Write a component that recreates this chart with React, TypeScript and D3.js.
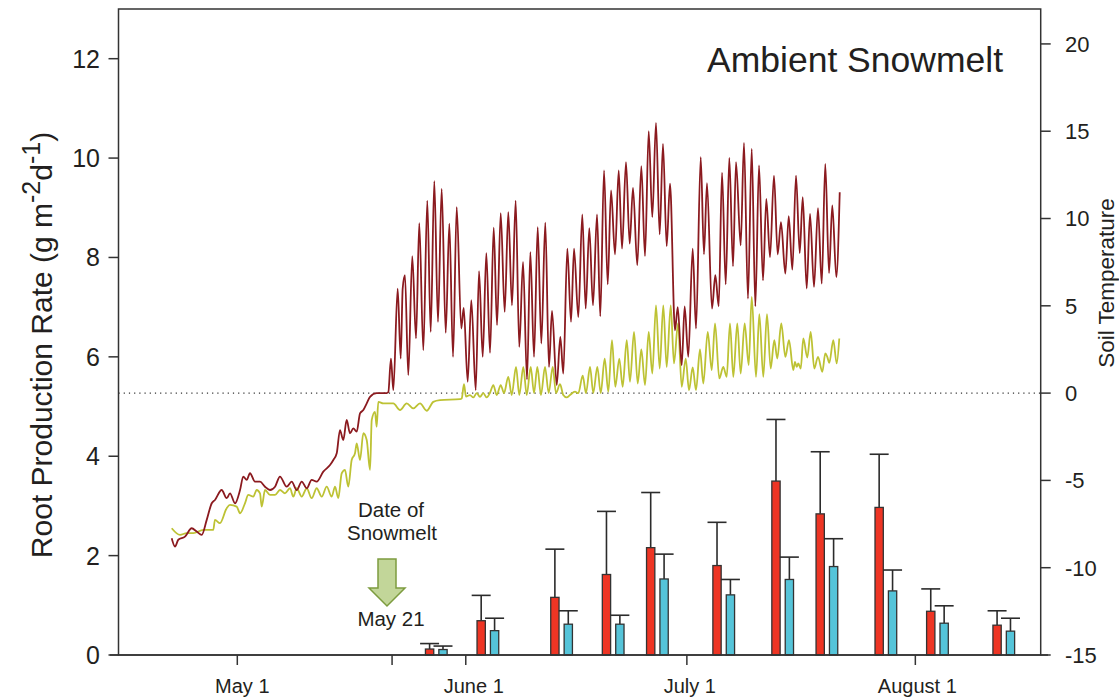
import React from "react";
import * as d3 from "d3";

const W = 1119;
const H = 698;
const DAY = 864e5;
const MAY1 = Date.UTC(2010, 4, 1);

// x axis ticks
const xTickDates = ["2010-05-01", "2010-05-22", "2010-06-01", "2010-07-01", "2010-08-01"];
const xTickLabels = ["May 1", "", "June 1", "July 1", "August 1"];
const leftTicks = [0, 2, 4, 6, 8, 10, 12];
const rightTicks = [-15, -10, -5, 0, 5, 10, 15, 20];

// root production sampling dates
const sampleDates = [
  "2010-05-28", "2010-06-04", "2010-06-14", "2010-06-21", "2010-06-27", "2010-07-06",
  "2010-07-14", "2010-07-20", "2010-07-28", "2010-08-04", "2010-08-13",
];
const redRoot = [0.12, 0.69, 1.16, 1.62, 2.16, 1.8, 3.5, 2.84, 2.97, 0.88, 0.6];
const redErr = [0.11, 0.51, 0.97, 1.27, 1.11, 0.87, 1.24, 1.25, 1.07, 0.45, 0.29];
const blueRoot = [0.11, 0.49, 0.62, 0.62, 1.53, 1.21, 1.52, 1.78, 1.29, 0.64, 0.48];
const blueErr = [0.07, 0.25, 0.27, 0.18, 0.5, 0.31, 0.45, 0.56, 0.42, 0.35, 0.26];

// soil temperature: [days after May 1, °C]
const soilTempDark: [number, number][] = [
  [-8.9, -8.31], [-8.45, -8.79], [-8.01, -8.4], [-7.1, -8.22], [-6.19, -7.74], [-5.51, -7.93],
  [-4.83, -8.12], [-4.15, -7.26], [-3.47, -6.31], [-3.03, -6.12], [-2.12, -5.55], [-1.44, -6.02],
  [-0.99, -5.74], [-0.31, -6.31], [0.37, -5.55], [0.81, -4.78], [1.28, -4.97], [1.72, -4.59],
  [2.4, -5.07], [3.08, -5.07], [3.76, -5.36], [4.44, -5.55], [5.12, -5.36], [5.79, -4.78],
  [6.7, -5.36], [7.38, -5.07], [8.06, -5.55], [8.74, -5.07], [9.42, -5.45], [10.09, -4.97],
  [10.77, -5.07], [11.67, -4.5], [12.58, -4.12], [13.03, -3.83], [13.49, -3.45], [13.93, -2.12],
  [14.38, -2.69], [14.84, -1.54], [15.29, -2.3], [15.74, -2.02], [16.2, -2.21], [16.65, -1.16],
  [17.1, -0.97], [17.56, -0.59], [18.01, -0.21], [18.91, 0.0], [20.27, 0.0], [20.49, 0.05],
  [20.85, 1.98], [21.17, 0.17], [21.76, 5.99], [22.17, 1.98], [22.44, 5.99], [22.75, 6.75],
  [23.2, 1.03], [23.74, 7.85], [24.25, 3.13], [24.69, 9.74], [25.24, 2.46], [25.78, 11.03],
  [26.24, 3.51], [26.73, 12.14], [27.23, 4.08], [27.73, 11.7], [28.28, 3.45], [28.77, 9.7],
  [29.27, 2.08], [29.77, 10.65], [30.39, 3.7], [30.72, 4.88], [31.26, 0.65], [31.75, 5.32],
  [32.35, 0.17], [32.8, 6.99], [33.3, 2.08], [33.79, 8.02], [34.29, 2.31], [34.79, 9.47],
  [35.24, 3.89], [35.74, 10.31], [36.28, 4.65], [36.77, 10.37], [37.27, 5.03], [37.77, 11.03],
  [38.26, 2.65], [38.77, 7.51], [39.31, 0.78], [39.76, 8.08], [40.26, 2.08], [40.76, 9.51],
  [41.25, 2.84], [41.79, 9.76], [42.29, 1.5], [42.7, 4.71], [43.34, 0.46], [43.83, 3.22],
  [44.23, 1.12], [44.78, 8.27], [45.28, 4.08], [45.69, 8.27], [46.27, 4.36], [46.81, 10.23],
  [47.27, 4.84], [47.76, 9.45], [48.26, 5.03], [48.81, 10.23], [49.25, 4.4], [49.76, 12.75],
  [50.26, 6.23], [50.71, 11.61], [51.25, 7.95], [51.75, 12.75], [52.2, 8.27], [52.74, 13.23],
  [53.24, 8.56], [53.69, 11.76], [54.27, 7.32], [54.82, 13.0], [55.32, 7.85], [55.82, 15.0],
  [56.31, 10.08], [56.81, 15.48], [57.31, 9.09], [57.76, 14.28], [58.26, 8.42], [58.71, 11.99],
  [59.39, 3.6], [59.76, 4.93], [60.3, 1.6], [60.7, 4.97], [61.19, 2.08], [61.79, 8.27],
  [62.24, 3.7], [62.88, 13.51], [63.32, 7.95], [63.73, 12.02], [64.41, 4.84], [64.86, 6.75],
  [65.32, 4.97], [65.77, 12.62], [66.27, 6.23], [66.76, 13.47], [67.26, 7.26], [67.67, 13.23],
  [68.3, 8.46], [68.75, 14.33], [69.29, 5.41], [69.8, 13.99], [70.29, 4.97], [70.79, 13.04],
  [71.33, 6.46], [71.78, 11.13], [72.28, 7.79], [72.82, 12.46], [73.32, 7.95], [73.77, 9.79],
  [74.36, 6.84], [74.82, 10.14], [75.31, 7.07], [75.81, 12.46], [76.31, 8.02], [76.72, 11.22],
  [77.26, 5.99], [77.71, 10.27], [78.25, 6.08], [78.79, 10.6], [79.3, 6.27], [79.78, 13.13],
  [80.29, 6.88], [80.73, 10.75], [81.28, 6.65], [81.74, 11.51],
];

const soilTempLight: [number, number][] = [
  [-8.9, -7.74], [-7.77, -8.12], [-6.87, -8.02], [-5.97, -8.02], [-4.61, -7.83], [-3.26, -7.83],
  [-3.03, -7.26], [-2.35, -7.45], [-1.44, -6.59], [-0.99, -6.4], [-0.08, -6.5], [0.37, -6.88],
  [1.04, -6.31], [1.49, -5.83], [2.17, -5.93], [2.63, -5.55], [3.08, -5.74], [3.31, -6.5],
  [3.76, -5.55], [4.44, -5.83], [5.12, -5.83], [5.79, -5.55], [6.47, -5.74], [7.15, -5.45],
  [7.6, -5.93], [8.06, -5.45], [8.74, -5.93], [9.42, -5.45], [10.09, -6.02], [10.77, -5.45],
  [11.45, -5.93], [12.13, -5.36], [12.81, -5.93], [13.26, -5.36], [13.7, -6.02], [14.17, -4.59],
  [14.61, -4.4], [15.06, -5.36], [15.52, -3.83], [15.97, -3.45], [16.2, -2.88], [16.65, -3.83],
  [17.1, -2.3], [17.56, -2.69], [18.01, -4.4], [18.24, -1.54], [18.68, -1.07], [18.91, -1.93],
  [19.13, -0.5], [19.81, -0.59], [21.17, -0.59], [22.08, -0.97], [22.98, -0.59], [23.88, -0.88],
  [24.79, -0.59], [25.7, -1.01], [26.59, -0.5], [27.5, -0.4], [30.22, -0.35], [30.45, -0.3],
  [30.76, 0.51], [31.03, -0.2], [31.57, -0.11], [32.02, -0.25], [32.48, 0.0], [32.93, -0.21],
  [33.38, 0.0], [33.84, -0.25], [34.29, 0.02], [34.74, 0.46], [35.2, -0.11], [35.74, 0.46],
  [36.19, 0.0], [36.77, 0.93], [37.23, -0.11], [37.82, 1.5], [38.26, -0.11], [38.81, 1.5],
  [39.27, -0.11], [39.81, 1.5], [40.26, 0.0], [40.71, 1.5], [41.2, -0.11], [41.75, 1.5],
  [42.25, 0.0], [42.8, 1.5], [43.24, 0.0], [43.79, 0.51], [44.23, -0.11], [44.69, -0.25],
  [45.14, -0.11], [45.82, 0.08], [46.27, 0.0], [46.87, 1.0], [47.31, 0.0], [47.86, 1.5],
  [48.3, 0.0], [48.85, 1.5], [49.31, 0.0], [49.85, 1.98], [50.34, 0.08], [50.84, 3.03],
  [51.29, 0.36], [51.83, 1.98], [52.29, 0.36], [52.84, 3.03], [53.28, 0.65], [53.83, 3.51],
  [54.33, 0.55], [54.82, 2.5], [55.32, 0.46], [55.82, 3.51], [56.31, 1.12], [56.81, 5.03],
  [57.31, 1.41], [57.8, 5.03], [58.26, 1.5], [58.81, 5.03], [59.25, 1.7], [59.8, 3.99],
  [60.3, 0.36], [60.84, 1.98], [61.29, 0.17], [61.79, 1.47], [62.24, 0.17], [62.78, 2.5],
  [63.23, 0.55], [63.83, 3.51], [64.37, 1.32], [64.82, 3.99], [65.4, 0.84], [65.94, 1.5],
  [66.4, 0.93], [66.85, 3.99], [67.3, 0.93], [67.84, 3.99], [68.3, 1.12], [68.84, 3.99],
  [69.39, 1.6], [69.8, 5.51], [70.38, 0.93], [70.83, 4.52], [71.37, 0.93], [71.87, 4.52],
  [72.37, 1.41], [72.86, 3.03], [73.27, 1.98], [73.81, 3.99], [74.36, 2.08], [74.86, 3.03],
  [75.44, 1.32], [75.67, 1.79], [75.9, 1.5], [76.12, 1.7], [76.45, 1.41], [76.8, 3.13],
  [77.34, 2.04], [77.8, 3.51], [78.29, 1.41], [78.79, 2.08], [79.38, 1.22], [79.78, 2.27],
  [80.05, 2.08], [80.32, 1.73], [80.87, 3.03], [81.33, 1.7], [81.68, 3.13],
];

const FONT = "'Liberation Sans', Arial, Helvetica, sans-serif";
const INK = "#231f20";

export default function App() {
  const left = 118.5;
  const right = 1040.7;
  const top = 9;
  const bottom = 655;

  const x = d3
    .scaleUtc()
    .domain([MAY1 - 16.12 * DAY, MAY1 + 109.01 * DAY])
    .range([left, right]);
  const yL = d3.scaleLinear().domain([0, 13]).range([bottom, top]);
  const yR = d3.scaleLinear().domain([-15, 22]).range([bottom, top]);

  const parse = (s: string) => new Date(s + "T00:00:00Z");
  const line = d3
    .line<[number, number]>()
    .x((d) => x(new Date(MAY1 + d[0] * DAY)))
    .y((d) => yR(d[1]))
    .curve(d3.curveMonotoneX);

  const barW = 8.3;
  const off = 6.7;
  const capW = 19;
  const labelDx = [5, 0, 8, 3, 2];

  const bars = sampleDates.map((s, i) => ({ cx: x(parse(s)), i }));

  const renderBar = (cx: number, v: number, e: number, fill: string, key: string) => (
    <g key={key}>
      <line x1={cx} x2={cx} y1={yL(v)} y2={yL(v + e)} stroke="#2b2b2b" strokeWidth={1.6} />
      <line x1={cx - capW / 2} x2={cx + capW / 2} y1={yL(v + e)} y2={yL(v + e)} stroke="#2b2b2b" strokeWidth={1.6} />
      <rect x={cx - barW / 2} y={yL(v)} width={barW} height={bottom - yL(v)} fill={fill} stroke="#333" strokeWidth={1.3} />
    </g>
  );

  const arrowCx = 387;
  const arrowPath =
    [
      [arrowCx - 9, 559],
      [arrowCx + 9, 559],
      [arrowCx + 9, 588],
      [arrowCx + 18, 588],
      [arrowCx, 606],
      [arrowCx - 18, 588],
      [arrowCx - 9, 588],
    ]
      .map((p, i) => (i === 0 ? "M" : "L") + p[0] + "," + p[1])
      .join("") + "Z";

  return (
    <svg
      width={W}
      height={H}
      style={{ position: "absolute", left: 0, top: 0, display: "block", background: "#fff" }}
      fontFamily={FONT}
    >
      <rect x={0} y={0} width={W} height={H} fill="#fff" />

      {/* zero-temperature dotted line */}
      <line x1={left} x2={right} y1={yR(0)} y2={yR(0)} stroke="#333" strokeWidth={1.2} strokeDasharray="1.2,4" />

      {/* soil temperature lines */}
      <path d={line(soilTempLight) || ""} fill="none" stroke="#bdc234" strokeWidth={1.8} strokeLinejoin="round" />
      <path d={line(soilTempDark) || ""} fill="none" stroke="#8b1a1f" strokeWidth={1.8} strokeLinejoin="round" />

      {/* bars */}
      {bars.map(({ cx, i }) => (
        <g key={i}>
          {renderBar(cx - off, redRoot[i], redErr[i], "#ee3524", "r" + i)}
          {renderBar(cx + off, blueRoot[i], blueErr[i], "#55c4d9", "b" + i)}
        </g>
      ))}

      {/* frame */}
      <rect x={left} y={top} width={right - left} height={bottom - top} fill="none" stroke="#333" strokeWidth={1.5} />
      <line x1={110} x2={1048} y1={bottom} y2={bottom} stroke="#333" strokeWidth={1.5} />

      {/* left axis */}
      {leftTicks.map((t) => (
        <g key={"l" + t}>
          <line x1={left - 10} x2={left} y1={yL(t)} y2={yL(t)} stroke="#333" strokeWidth={1.5} />
          <text x={100} y={yL(t)} dy="0.36em" textAnchor="end" fontSize={25} fill={INK}>
            {t}
          </text>
        </g>
      ))}

      {/* right axis */}
      {rightTicks.map((t) => (
        <g key={"r" + t}>
          <line x1={right} x2={right + 10} y1={yR(t)} y2={yR(t)} stroke="#333" strokeWidth={1.5} />
          <text x={1065} y={yR(t)} dy="0.36em" textAnchor="start" fontSize={22} fill={INK}>
            {t}
          </text>
        </g>
      ))}

      {/* bottom axis */}
      {xTickDates.map((s, i) => {
        const px = x(parse(s));
        return (
          <g key={"x" + i}>
            <line x1={px} x2={px} y1={bottom} y2={bottom + 10} stroke="#333" strokeWidth={1.5} />
            {xTickLabels[i] && (
              <text x={px + labelDx[i]} y={693} textAnchor="middle" fontSize={20} fill={INK}>
                {xTickLabels[i]}
              </text>
            )}
          </g>
        );
      })}

      {/* axis titles */}
      <text transform="translate(52,345) rotate(-90)" textAnchor="middle" fontSize={30} fill={INK}>
        Root Production Rate (g m
        <tspan fontSize={25} dy={-12}>-2</tspan>
        <tspan dy={12}>d</tspan>
        <tspan fontSize={25} dy={-12}>-1</tspan>
        <tspan dy={12}>)</tspan>
      </text>
      <text transform="translate(1114,283) rotate(-90)" textAnchor="middle" fontSize={22.5} fill={INK}>
        Soil Temperature
      </text>

      {/* panel title */}
      <text x={1003} y={72} textAnchor="end" fontSize={35.5} fill={INK}>
        Ambient Snowmelt
      </text>

      {/* snowmelt annotation */}
      <text x={391} y={517} textAnchor="middle" fontSize={20.5} fill={INK}>
        Date of
      </text>
      <text x={392} y={540} textAnchor="middle" fontSize={20.5} fill={INK}>
        Snowmelt
      </text>
      <path d={arrowPath} fill="#c2d699" stroke="#7d9c3f" strokeWidth={1.5} strokeLinejoin="miter" />
      <text x={391} y={626} textAnchor="middle" fontSize={20.5} fill={INK}>
        May 21
      </text>
    </svg>
  );
}
